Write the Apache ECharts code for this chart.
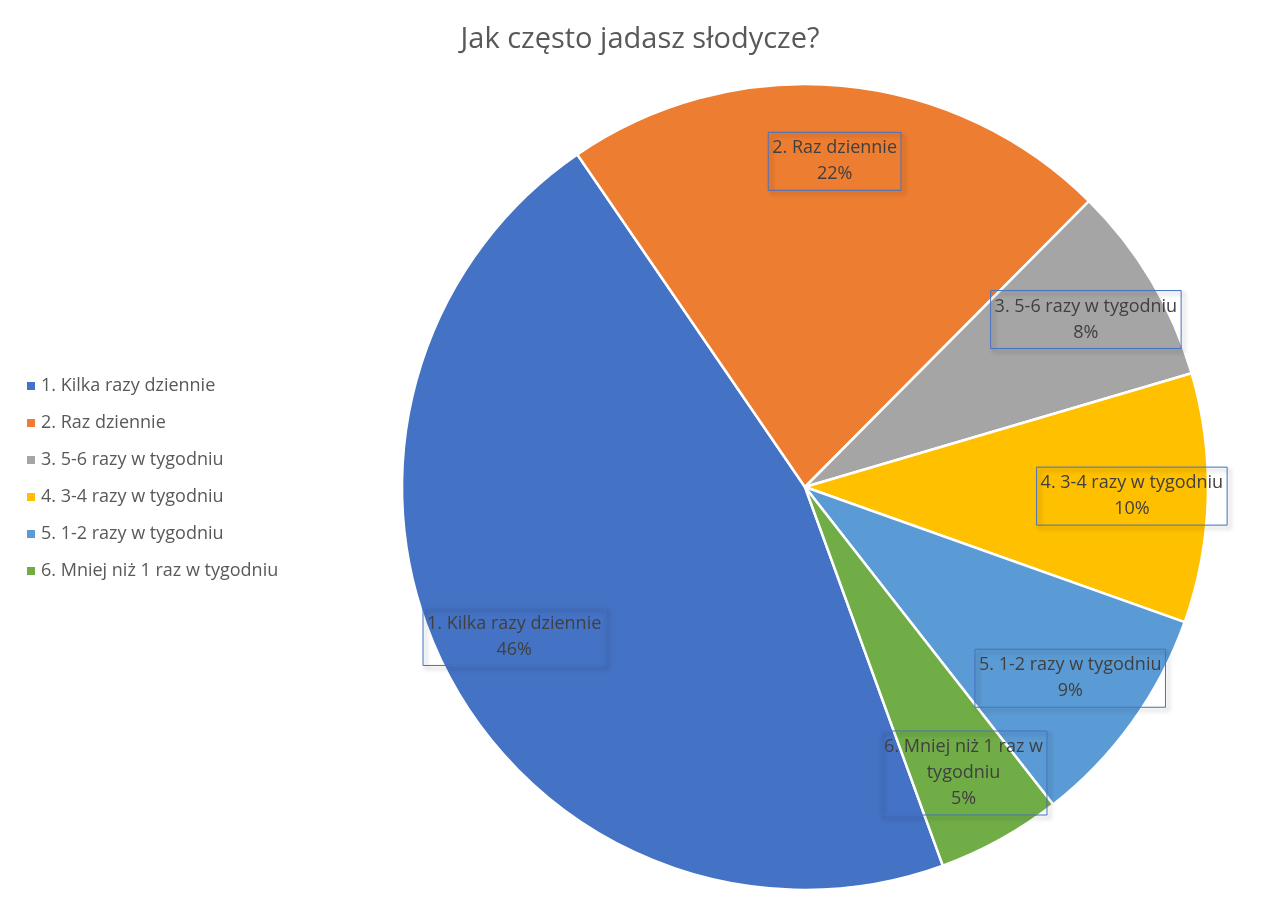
<!DOCTYPE html>
<html>
<head>
<meta charset="utf-8">
<script src="https://cdn.jsdelivr.net/npm/echarts@6/dist/echarts.min.js"></script>
<style>html,body{margin:0;padding:0;background:#fff}#main{width:1280px;height:914px}</style>
</head>
<body>
<div id="main"></div>
<script>
// Chart data
const categories = ["1. Kilka razy dziennie", "2. Raz dziennie", "3. 5-6 razy w tygodniu",
    "4. 3-4 razy w tygodniu", "5. 1-2 razy w tygodniu", "6. Mniej niż 1 raz w tygodniu"];
const shares = [46, 22, 8, 10, 9, 5];
const colors = ["#4472C4", "#ED7D31", "#A5A5A5", "#FFC000", "#5B9BD5", "#70AD47"];
const labelTexts = ["1. Kilka razy dziennie", "2. Raz dziennie", "3. 5-6 razy w tygodniu",
    "4. 3-4 razy w tygodniu", "5. 1-2 razy w tygodniu", "6. Mniej niż 1 raz w\ntygodniu"];

let chart = echarts.init(document.getElementById("main"));

let pieData = categories.map((c, i) => ({name: c, value: shares[i], itemStyle: {color: colors[i]}}));
let labelData = categories.map((c, i) => ({
    name: c, value: shares[i],
    itemStyle: {color: "rgba(0,0,0,0)"},
    label: {formatter: labelTexts[i] + "\n" + shares[i] + "%"}
}));

chart.setOption({
    animation: false,
    title: {
        text: "Jak często jadasz słodycze?", left: "center", top: 20,
        textStyle: {fontFamily: "Open Sans", fontSize: 29, fontWeight: "normal", color: "#595959"}
    },
    legend: {
        orient: "vertical", left: 20, top: 372, itemGap: 19, itemWidth: 10, itemHeight: 10,
        icon: "rect", data: categories,
        textStyle: {fontFamily: "Open Sans", fontSize: 18, color: "#595959"}
    },
    series: [{
        type: "pie", center: [805, 487], radius: [0, 403], startAngle: 290,
        clockwise: true, silent: true,
        itemStyle: {borderColor: "#fff", borderWidth: 2.5},
        label: {show: false}, labelLine: {show: false},
        data: pieData
    }, {
        type: "pie", center: [805, 487], radius: [245, 403], startAngle: 290,
        clockwise: true, silent: true, legendHoverLink: false,
        label: {
            show: true, position: "inside", fontFamily: "Open Sans", fontSize: 18,
            color: "#404040", lineHeight: 26, align: "center",
            borderColor: "#4472C4", borderWidth: 1, padding: [3, 4],
            shadowColor: "rgba(0,0,0,0.35)", shadowOffsetX: 3, shadowOffsetY: 3, shadowBlur: 4
        },
        labelLine: {show: false},
        data: labelData
    }]
});
</script>
</body>
</html>
